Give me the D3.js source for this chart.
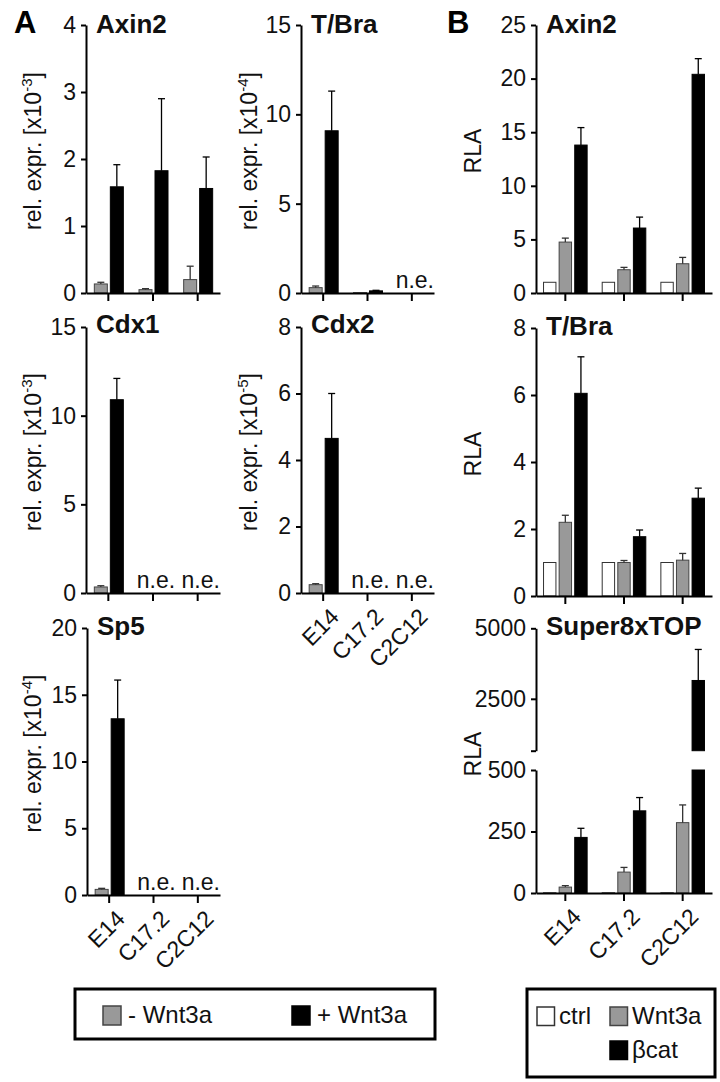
<!DOCTYPE html>
<html>
<head>
<meta charset="utf-8">
<script src="https://cdn.jsdelivr.net/npm/d3@7"></script>
<style>
  html, body { margin: 0; padding: 0; background: #fff; }
  svg text { font-family: "Liberation Sans", Arial, Helvetica, sans-serif !important; }
</style>
</head>
<body>
<svg id="chart" width="720" height="1082"></svg>
<script>
// ---------------- DATA ----------------
const cells = ["E14", "C17.2", "C2C12"];

// Panel A (rel. expr.), null = n.e. (not expressed)
const axin2A_minus = [0.135, 0.05, 0.2];
const axin2A_minusErr = [0.025, 0.015, 0.2];
const axin2A_plus = [1.585, 1.825, 1.56];
const axin2A_plusErr = [0.33, 1.075, 0.47];

const tbraA_minus = [0.3, 0.02, null];
const tbraA_minusErr = [0.09, 0, null];
const tbraA_plus = [9.08, 0.12, null];
const tbraA_plusErr = [2.22, 0.03, null];

const cdx1_minus = [0.34, null, null];
const cdx1_minusErr = [0.07, null, null];
const cdx1_plus = [10.9, null, null];
const cdx1_plusErr = [1.2, null, null];

const cdx2_minus = [0.25, null, null];
const cdx2_minusErr = [0.03, null, null];
const cdx2_plus = [4.65, null, null];
const cdx2_plusErr = [1.35, null, null];

const sp5_minus = [0.42, null, null];
const sp5_minusErr = [0.08, null, null];
const sp5_plus = [13.2, null, null];
const sp5_plusErr = [2.9, null, null];

// Panel B (RLA)
const axin2B_ctrl = [1, 1, 1];
const axin2B_wnt = [4.75, 2.17, 2.73];
const axin2B_wntErr = [0.37, 0.22, 0.59];
const axin2B_bcat = [13.8, 6.06, 20.4];
const axin2B_bcatErr = [1.63, 1.02, 1.46];

const tbraB_ctrl = [1, 1, 1];
const tbraB_wnt = [2.2, 1.0, 1.07];
const tbraB_wntErr = [0.21, 0.06, 0.2];
const tbraB_bcat = [6.05, 1.77, 2.92];
const tbraB_bcatErr = [1.09, 0.2, 0.3];

const topB_ctrl = [1, 1, 1];
const topB_wnt = [24, 85, 286];
const topB_wntErr = [6, 19, 72];
const topB_bcat = [226, 334, 3150];
const topB_bcatErr = [37, 54, 1100];

// Tick values
const ticksAxin2A = [0, 1, 2, 3, 4];
const ticksTbraA = [0, 5, 10, 15];
const ticksCdx1 = [0, 5, 10, 15];
const ticksCdx2 = [0, 2, 4, 6, 8];
const ticksSp5 = [0, 5, 10, 15, 20];
const ticksAxin2B = [0, 5, 10, 15, 20, 25];
const ticksTbraB = [0, 2, 4, 6, 8];
const ticksTopLow = [0, 250, 500];
const ticksTopHigh = [660, 2500, 5000];

const legendA = ["- Wnt3a", "+ Wnt3a"];
const legendB = ["ctrl", "Wnt3a", "βcat"];

// ---------------- STYLE ----------------
const COL = { ctrl: "#ffffff", minus: "#999999", plus: "#000000" };
const STROKE = { ctrl: "#333", minus: "#444", plus: "#000" };
const TICK_FS = 23, TITLE_FS = 26, LAB_FS = 23;
const fmt = d3.format("d");

const svg = d3.select("#chart");
svg.append("rect").attr("width", 720).attr("height", 1082).attr("fill", "#fff");

function styleAxis(g) {
  g.attr("font-size", TICK_FS);
  g.select(".domain").attr("stroke", "#000").attr("stroke-width", 2);
  g.selectAll(".tick line").attr("stroke", "#000").attr("stroke-width", 2);
  g.selectAll(".tick text").attr("font-size", TICK_FS).attr("fill", "#111");
}

function yLabel(x, cy, text, sup) {
  const t = svg.append("text")
    .attr("transform", `translate(${x},${cy}) rotate(-90)`)
    .attr("text-anchor", "middle")
    .attr("font-size", LAB_FS).attr("fill", "#111");
  t.append("tspan").text(text);
  if (sup) {
    t.append("tspan").attr("font-size", 15).attr("dy", -9).text(sup);
    t.append("tspan").attr("dy", 9).text("]");
  }
}

function errBar(g, cx, yt, ye, kind) {
  const ec = kind === "plus" ? "#000" : "#333";
  g.append("line").attr("x1", cx).attr("x2", cx).attr("y1", yt).attr("y2", ye)
    .attr("stroke", ec).attr("stroke-width", 1.3);
  g.append("line").attr("x1", cx - 3.5).attr("x2", cx + 3.5).attr("y1", ye).attr("y2", ye)
    .attr("stroke", ec).attr("stroke-width", 1.3);
}

function drawBars(g, x, y, series, width, offsets) {
  series.forEach((s, si) => {
    s.values.forEach((v, i) => {
      if (v == null) return;
      const cx = x(cells[i]) + x.bandwidth() / 2 + offsets[si];
      const y0 = y(0);
      const yt = y(v);
      g.append("rect")
        .attr("x", cx - width / 2).attr("y", Math.min(yt, y0))
        .attr("width", width).attr("height", Math.max(0.3, Math.abs(y0 - yt)))
        .attr("fill", COL[s.kind]).attr("stroke", STROKE[s.kind]).attr("stroke-width", 1);
      const e = s.err ? s.err[i] : null;
      if (e != null && e > 0) errBar(g, cx, yt, y(v + e), s.kind);
    });
  });
}

function xAxis(x, yPos, withLabels) {
  const g = svg.append("g").attr("transform", `translate(0,${yPos})`)
    .call(d3.axisBottom(x).tickSize(8).tickSizeOuter(0).tickFormat(withLabels ? (d => d) : ""));
  styleAxis(g);
  if (withLabels) {
    g.selectAll(".tick text")
      .attr("x", 0).attr("y", 0).attr("dy", "0.75em")
      .attr("text-anchor", "end")
      .attr("transform", "translate(5,13) rotate(-45)");
  }
  return g;
}

function panel(o) {
  const x = d3.scaleBand().domain(cells).range([o.x0, o.x1]).paddingInner(0).paddingOuter(0);
  const y = d3.scaleLinear().domain([0, o.max]).range([o.yb, o.yt]);
  const gy = svg.append("g").attr("transform", `translate(${o.x0},0)`)
    .call(d3.axisLeft(y).tickValues(o.ticks).tickFormat(fmt).tickSize(5).tickPadding(5).tickSizeOuter(0));
  styleAxis(gy);
  const g = svg.append("g");
  drawBars(g, x, y, o.series, o.bw, o.offsets);
  xAxis(x, o.yb, o.labels);
  cells.forEach((c, i) => {
    if (o.series.every(s => s.values[i] == null)) {
      svg.append("text").attr("x", x(c) + x.bandwidth() / 2 + 3).attr("y", o.yb - 5)
        .attr("text-anchor", "middle").attr("font-size", TICK_FS).attr("fill", "#111").text("n.e.");
    }
  });
  svg.append("text").attr("x", o.x0 + 10).attr("y", o.titleY)
    .attr("font-size", TITLE_FS).attr("font-weight", "bold").attr("fill", "#111").text(o.title);
  yLabel(o.labX, (o.yb + o.yt) / 2 - 8, o.ylab, o.sup);
}

const offA = [-7.5, 8.5];
// ---- Panel A ----
panel({ x0: 86, x1: 220, yb: 293, yt: 25, max: 4, ticks: ticksAxin2A, title: "Axin2", titleY: 33,
  series: [{ kind: "minus", values: axin2A_minus, err: axin2A_minusErr }, { kind: "plus", values: axin2A_plus, err: axin2A_plusErr }],
  bw: 13, offsets: offA, labels: false, labX: 41, ylab: "rel. expr. [x10", sup: "-3" });
panel({ x0: 301, x1: 434, yb: 293, yt: 25, max: 15, ticks: ticksTbraA, title: "T/Bra", titleY: 33,
  series: [{ kind: "minus", values: tbraA_minus, err: tbraA_minusErr }, { kind: "plus", values: tbraA_plus, err: tbraA_plusErr }],
  bw: 13, offsets: offA, labels: false, labX: 257, ylab: "rel. expr. [x10", sup: "-4" });
panel({ x0: 86, x1: 220, yb: 593, yt: 327, max: 15, ticks: ticksCdx1, title: "Cdx1", titleY: 333,
  series: [{ kind: "minus", values: cdx1_minus, err: cdx1_minusErr }, { kind: "plus", values: cdx1_plus, err: cdx1_plusErr }],
  bw: 13, offsets: offA, labels: false, labX: 41, ylab: "rel. expr. [x10", sup: "-3" });
panel({ x0: 301, x1: 434, yb: 593, yt: 327, max: 8, ticks: ticksCdx2, title: "Cdx2", titleY: 333,
  series: [{ kind: "minus", values: cdx2_minus, err: cdx2_minusErr }, { kind: "plus", values: cdx2_plus, err: cdx2_plusErr }],
  bw: 13, offsets: offA, labels: true, labX: 257, ylab: "rel. expr. [x10", sup: "-5" });
panel({ x0: 87, x1: 220, yb: 895, yt: 628, max: 20, ticks: ticksSp5, title: "Sp5", titleY: 635,
  series: [{ kind: "minus", values: sp5_minus, err: sp5_minusErr }, { kind: "plus", values: sp5_plus, err: sp5_plusErr }],
  bw: 13, offsets: offA, labels: true, labX: 41, ylab: "rel. expr. [x10", sup: "-4" });

// ---- Panel B ----
const offB = [-15.6, 0, 15.6];
panel({ x0: 536, x1: 712, yb: 293, yt: 25, max: 25, ticks: ticksAxin2B, title: "Axin2", titleY: 33,
  series: [{ kind: "ctrl", values: axin2B_ctrl }, { kind: "minus", values: axin2B_wnt, err: axin2B_wntErr }, { kind: "plus", values: axin2B_bcat, err: axin2B_bcatErr }],
  bw: 12.4, offsets: offB, labels: false, labX: 481, ylab: "RLA" });
panel({ x0: 536, x1: 712, yb: 596, yt: 328, max: 8, ticks: ticksTbraB, title: "T/Bra", titleY: 335,
  series: [{ kind: "ctrl", values: tbraB_ctrl }, { kind: "minus", values: tbraB_wnt, err: tbraB_wntErr }, { kind: "plus", values: tbraB_bcat, err: tbraB_bcatErr }],
  bw: 12.4, offsets: offB, labels: false, labX: 481, ylab: "RLA" });

// Super8xTOP with broken axis
(function () {
  const x = d3.scaleBand().domain(cells).range([536, 712]);
  const yLow = d3.scaleLinear().domain([0, 500]).range([893, 770]);
  const yHigh = d3.scaleLinear().domain([660, 5000]).range([750.7, 628.3]);
  const g1 = svg.append("g").attr("transform", "translate(536,0)")
    .call(d3.axisLeft(yLow).tickValues(ticksTopLow).tickFormat(fmt).tickSize(5).tickPadding(5).tickSizeOuter(0));
  styleAxis(g1);
  const g2 = svg.append("g").attr("transform", "translate(536,0)")
    .call(d3.axisLeft(yHigh).tickValues(ticksTopHigh).tickSize(5).tickPadding(5).tickSizeOuter(0)
      .tickFormat(d => d === 660 ? "" : fmt(d)));
  styleAxis(g2);
  const series = [{ kind: "ctrl", values: topB_ctrl, err: null }, { kind: "minus", values: topB_wnt, err: topB_wntErr }, { kind: "plus", values: topB_bcat, err: topB_bcatErr }];
  const gb = svg.append("g");
  series.forEach((s, si) => {
    s.values.forEach((v, i) => {
      const cx = x(cells[i]) + x.bandwidth() / 2 + offB[si];
      const w = 12.4;
      const lowTop = yLow(Math.min(v, 500));
      gb.append("rect").attr("x", cx - w / 2).attr("y", lowTop).attr("width", w)
        .attr("height", Math.max(0.3, yLow(0) - lowTop))
        .attr("fill", COL[s.kind]).attr("stroke", STROKE[s.kind]).attr("stroke-width", 1);
      let yv = lowTop, sc = yLow;
      if (v > 660) {
        yv = yHigh(v); sc = yHigh;
        gb.append("rect").attr("x", cx - w / 2).attr("y", yv).attr("width", w)
          .attr("height", yHigh(660) - yv)
          .attr("fill", COL[s.kind]).attr("stroke", STROKE[s.kind]).attr("stroke-width", 1);
      }
      const e = s.err ? s.err[i] : null;
      if (e) errBar(gb, cx, yv, sc(v + e), s.kind);
    });
  });
  xAxis(x, 893, true);
  svg.append("text").attr("x", 546).attr("y", 635).attr("font-size", TITLE_FS).attr("font-weight", "bold")
    .attr("fill", "#111").text("Super8xTOP");
  yLabel(481, 754, "RLA");
})();

// Panel letters
svg.append("text").attr("x", 14).attr("y", 33).attr("font-size", 31).attr("font-weight", "bold").text("A");
svg.append("text").attr("x", 447).attr("y", 33).attr("font-size", 31).attr("font-weight", "bold").text("B");

// Legend A
const lgA = svg.append("g");
lgA.append("rect").attr("x", 75).attr("y", 989).attr("width", 360).attr("height", 50)
  .attr("fill", "none").attr("stroke", "#000").attr("stroke-width", 3);
[{ k: "minus", x: 103 }, { k: "plus", x: 292 }].forEach((d, i) => {
  lgA.append("rect").attr("x", d.x).attr("y", 1006).attr("width", 18).attr("height", 19)
    .attr("fill", COL[d.k]).attr("stroke", STROKE[d.k]).attr("stroke-width", 1.5);
  lgA.append("text").attr("x", d.x + 25).attr("y", 1023).attr("font-size", 24).attr("fill", "#111").text(legendA[i]);
});

// Legend B
const lgB = svg.append("g");
lgB.append("rect").attr("x", 527).attr("y", 989).attr("width", 188).attr("height", 88)
  .attr("fill", "none").attr("stroke", "#000").attr("stroke-width", 3);
[{ k: "ctrl", x: 537, y: 1007 }, { k: "minus", x: 610, y: 1007 }, { k: "plus", x: 610, y: 1041 }].forEach((d, i) => {
  lgB.append("rect").attr("x", d.x).attr("y", d.y).attr("width", 17.5).attr("height", 18.5)
    .attr("fill", COL[d.k]).attr("stroke", STROKE[d.k]).attr("stroke-width", 1.5);
  lgB.append("text").attr("x", d.x + 22).attr("y", d.y + 17).attr("font-size", 24).attr("fill", "#111").text(legendB[i]);
});
</script>
</body>
</html>
